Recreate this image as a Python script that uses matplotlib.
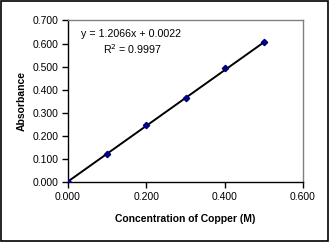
import numpy as np
import matplotlib.pyplot as plt

plt.rcParams['font.family'] = ['Liberation Sans', 'DejaVu Sans']

# Datos de la curva de calibración
concentracion = [0.0, 0.1, 0.2, 0.3, 0.4, 0.5]
absorbancia = [0.0, 0.122, 0.247, 0.364, 0.492, 0.606]
pendiente = 1.2066
intercepto = 0.0022
r2 = 0.9997

fig = plt.figure(figsize=(3.29, 2.42), dpi=100)
ax = fig.add_axes([68 / 329, 60 / 242, 235 / 329, 161.5 / 242])

# Línea de tendencia
x_fit = np.array([concentracion[0], concentracion[-1]])
ax.plot(x_fit, pendiente * x_fit + intercepto, color='black', lw=1.4, zorder=2)
ax.plot(concentracion, absorbancia, linestyle='none', marker='D', ms=3.2,
        color='#000080', zorder=3)

ax.set_xlim(0, 0.6)
ax.set_ylim(0, 0.7)
ax.set_xticks(np.arange(0, 0.61, 0.2))
ax.set_yticks(np.arange(0, 0.71, 0.1))
ax.xaxis.set_major_formatter(plt.FormatStrFormatter('%.3f'))
ax.yaxis.set_major_formatter(plt.FormatStrFormatter('%.3f'))
ax.tick_params(direction='out', length=4, width=1, labelsize=7.5, pad=3)

for lado in ['top', 'right']:
    ax.spines[lado].set_color('#808080')
    ax.spines[lado].set_linewidth(1)
for lado in ['left', 'bottom']:
    ax.spines[lado].set_linewidth(1)

ax.set_xlabel('Concentration of Copper (M)', fontsize=7.5, fontweight='bold', labelpad=9)
ax.set_ylabel('Absorbance', fontsize=7.5, fontweight='bold', labelpad=4)

ax.text(0.033, 0.628, f'y = {pendiente:.4f}x + {intercepto:.4f}', fontsize=7.7,
        va='baseline')
ax.text(0.089, 0.556, f'R$^2$ = {r2:.4f}', fontsize=7.7, va='baseline')

# Borde de la figura
fig.patches.append(plt.Rectangle((0.002, 0.003), 0.994, 0.993, transform=fig.transFigure,
                                 fill=False, edgecolor='black', lw=1.2))

fig.savefig('out.png', dpi=100)
